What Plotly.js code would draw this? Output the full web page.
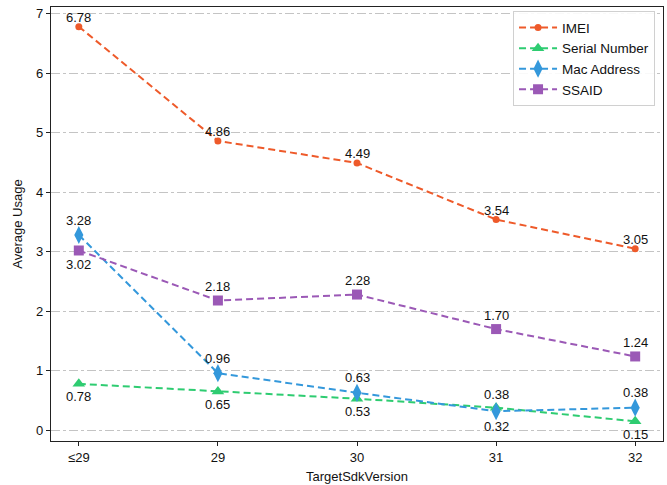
<!DOCTYPE html>
<html>
<head>
<meta charset="utf-8">
<script src="https://cdn.plot.ly/plotly-3.0.1.min.js"></script>
<style>html,body{margin:0;padding:0;background:#fff;}#chart{width:667px;height:485px;}</style>
</head>
<body>
<div id="chart"></div>
<script>
const categories = ['≤29', '29', '30', '31', '32'];
const imei = [6.78, 4.86, 4.49, 3.54, 3.05];
const serialNumber = [0.78, 0.65, 0.53, 0.38, 0.15];
const macAddress = [3.28, 0.96, 0.63, 0.32, 0.38];
const ssaid = [3.02, 2.18, 2.28, 1.70, 1.24];

// styling (label side: +1 above, -1 below; shift = px from point to label centre)
const series = [
  {name: 'IMEI', y: imei, color: '#ee5a2a', symbol: 'circle', size: 7, side: [1,1,1,1,1], shift: 9},
  {name: 'Serial Number', y: serialNumber, color: '#2ecc71', symbol: 'triangle-up', size: 11, side: [-1,-1,-1,1,-1], shift: 13},
  {name: 'Mac Address', y: macAddress, color: '#3498db', symbol: 'diamond-tall', size: 13, side: [1,1,1,-1,1], shift: 15},
  {name: 'SSAID', y: ssaid, color: '#9b59b6', symbol: 'square', size: 10, side: [-1,1,1,1,1], shift: 14}
];

const font = 'Liberation Sans, Arial, Helvetica, sans-serif';
const traces = series.map(s => ({
  type: 'scatter', mode: 'lines+markers', name: s.name,
  x: categories, y: s.y,
  line: {color: s.color, width: 2, dash: '7px,4px'},
  marker: {color: s.color, symbol: s.symbol, size: s.size, line: {width: 0}}
}));

const annotations = [];
series.forEach(s => {
  s.y.forEach((v, i) => {
    annotations.push({
      x: i, y: v, xref: 'x', yref: 'y', text: v.toFixed(2), showarrow: false,
      yshift: s.side[i] * s.shift, yanchor: 'middle', borderpad: 0,
      font: {family: font, size: 13, color: '#111'}
    });
  });
});

const layout = {
  width: 667, height: 485,
  margin: {l: 51, r: 4, t: 7, b: 44},
  paper_bgcolor: '#fff', plot_bgcolor: '#fff',
  font: {family: font, size: 13, color: '#111'},
  showlegend: true,
  legend: {x: 0.987, y: 0.99, xanchor: 'right', yanchor: 'top', itemwidth: 38,
    bgcolor: 'rgba(255,255,255,0.9)', bordercolor: '#d0d0d0', borderwidth: 1,
    font: {family: font, size: 13.5, color: '#111'}},
  xaxis: {
    type: 'category', range: [-0.2, 4.2],
    showline: true, linecolor: '#222', linewidth: 1.2, mirror: true,
    ticks: 'outside', ticklen: 4, tickcolor: '#222', showgrid: false,
    tickfont: {family: font, size: 13, color: '#111'},
    title: {text: 'TargetSdkVersion', font: {family: font, size: 13, color: '#111'}, standoff: 8}
  },
  yaxis: {
    range: [-0.18, 7.11], dtick: 1, tick0: 0,
    showline: true, linecolor: '#222', linewidth: 1.2, mirror: true,
    ticks: 'outside', ticklen: 4, tickcolor: '#222',
    showgrid: true, gridcolor: '#c4c4c4', gridwidth: 1, griddash: 'dashdot',
    zeroline: false,
    tickfont: {family: font, size: 13, color: '#111'},
    title: {text: 'Average Usage', font: {family: font, size: 13, color: '#111'}, standoff: 10}
  },
  annotations: annotations
};

Plotly.newPlot('chart', traces, layout, {displayModeBar: false, staticPlot: true});
</script>
</body>
</html>
